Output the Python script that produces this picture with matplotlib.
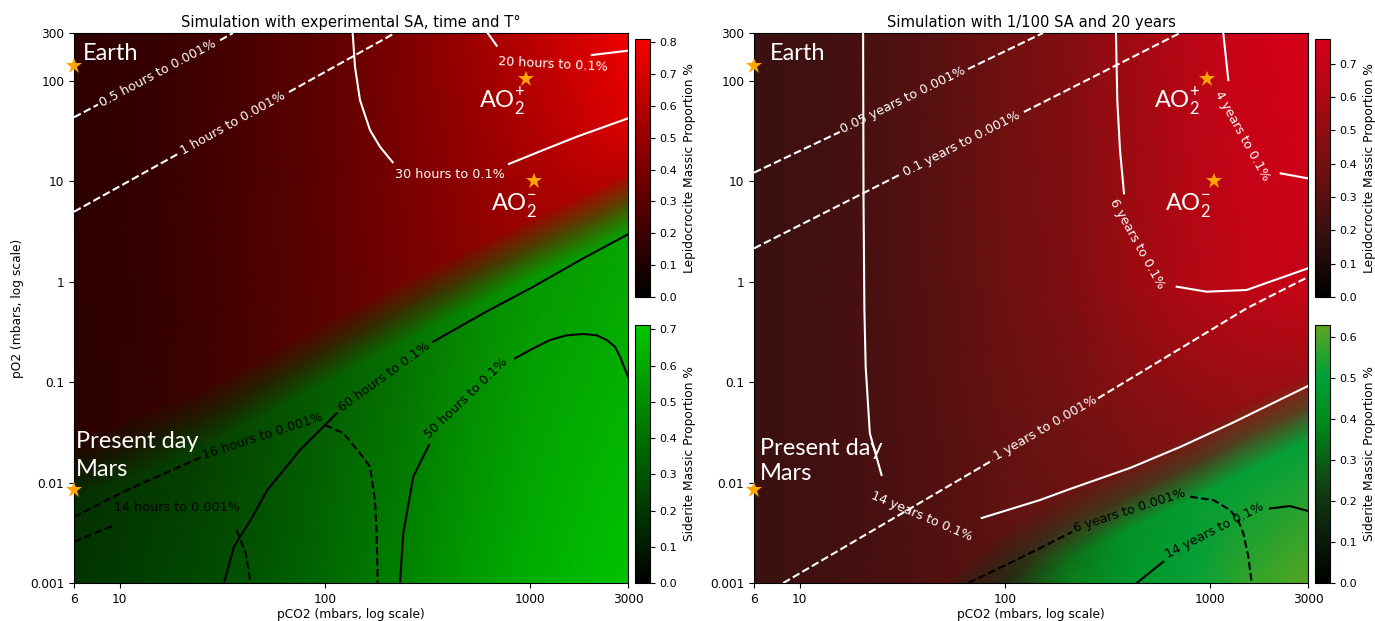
import numpy as np
import matplotlib
matplotlib.use("Agg")
import matplotlib.pyplot as plt
from matplotlib.colors import LinearSegmentedColormap, Normalize
from matplotlib.cm import ScalarMappable
from matplotlib.ticker import NullLocator

# ---------------- data ----------------
x_ticks = [6, 10, 100, 1000, 3000]
x_tick_labels = ["6", "10", "100", "1000", "3000"]
y_ticks = [0.001, 0.01, 0.1, 1, 10, 100, 300]
y_tick_labels = ["0.001", "0.01", "0.1", "1", "10", "100", "300"]

titles = ["Simulation with experimental SA, time and T°",
          "Simulation with 1/100 SA and 20 years"]

# colour-scale ranges
left_lep_max, left_sid_max = 0.812, 0.712
right_lep_max, right_sid_max = 0.776, 0.630
left_lep_ticks = [0.0, 0.1, 0.2, 0.3, 0.4, 0.5, 0.6, 0.7, 0.8]
left_sid_ticks = [0.0, 0.1, 0.2, 0.3, 0.4, 0.5, 0.6, 0.7]
right_lep_ticks = [0.0, 0.1, 0.2, 0.3, 0.4, 0.5, 0.6, 0.7]
right_sid_ticks = [0.0, 0.1, 0.2, 0.3, 0.4, 0.5, 0.6]

# ---- left panel field (rows: bottom, siderite edge, boundary, lepidocrocite edge, mid, top)
left_pco2 = [6, 12, 25, 50, 100, 230, 500, 1000, 2000, 3000]
left_po2 = [
    [0.001, 0.001, 0.001, 0.001, 0.001, 0.001, 0.001, 0.001, 0.001, 0.001],
    [0.0067, 0.0117, 0.0213, 0.045, 0.097, 0.24, 0.53, 1.06, 2.0, 3.0],
    [0.0133, 0.0234, 0.0425, 0.090, 0.193, 0.483, 1.06, 2.12, 4.05, 6.1],
    [0.0266, 0.047, 0.085, 0.18, 0.39, 0.97, 2.1, 4.2, 8.1, 12.2],
    [30, 30, 30, 30, 30, 30, 30, 30, 30, 30],
    [300, 300, 300, 300, 300, 300, 300, 300, 300, 300],
]
left_lep = [
    [0.00, 0.00, 0.00, 0.00, 0.00, 0.00, 0.00, 0.00, 0.00, 0.00],
    [0.02, 0.02, 0.02, 0.02, 0.02, 0.02, 0.02, 0.02, 0.02, 0.02],
    [0.07, 0.08, 0.10, 0.12, 0.14, 0.17, 0.20, 0.23, 0.25, 0.26],
    [0.14, 0.16, 0.20, 0.25, 0.30, 0.38, 0.45, 0.52, 0.58, 0.60],
    [0.15, 0.17, 0.21, 0.26, 0.31, 0.40, 0.48, 0.57, 0.66, 0.71],
    [0.15, 0.17, 0.21, 0.26, 0.31, 0.41, 0.51, 0.61, 0.72, 0.79],
]
left_sid = [
    [0.19, 0.22, 0.26, 0.31, 0.37, 0.46, 0.55, 0.62, 0.67, 0.69],
    [0.17, 0.20, 0.23, 0.28, 0.33, 0.40, 0.48, 0.54, 0.57, 0.59],
    [0.08, 0.09, 0.11, 0.13, 0.15, 0.18, 0.21, 0.24, 0.26, 0.27],
    [0.01, 0.01, 0.01, 0.01, 0.01, 0.01, 0.01, 0.01, 0.01, 0.01],
    [0.00, 0.00, 0.00, 0.00, 0.00, 0.00, 0.00, 0.00, 0.00, 0.00],
    [0.00, 0.00, 0.00, 0.00, 0.00, 0.00, 0.00, 0.00, 0.00, 0.00],
]

# ---- right panel field
right_pco2 = [6, 12, 25, 50, 100, 200, 400, 800, 1500, 3000]
right_po2 = [
    [0.001, 0.001, 0.001, 0.001, 0.001, 0.001, 0.001, 0.001, 0.001, 0.001],
    [0.001, 0.001, 0.001, 0.001, 0.001, 0.0017, 0.0034, 0.0066, 0.013, 0.026],
    [0.001, 0.001, 0.001, 0.001, 0.0016, 0.0036, 0.0072, 0.014, 0.028, 0.055],
    [0.001, 0.001, 0.001, 0.001, 0.0035, 0.0078, 0.016, 0.031, 0.062, 0.12],
    [1, 1, 1, 1, 1, 1, 1, 1, 1, 1],
    [300, 300, 300, 300, 300, 300, 300, 300, 300, 300],
]
right_lep = [
    [0.20, 0.22, 0.25, 0.28, 0.10, 0.02, 0.00, 0.00, 0.00, 0.00],
    [0.20, 0.22, 0.25, 0.28, 0.10, 0.03, 0.02, 0.02, 0.02, 0.02],
    [0.20, 0.22, 0.25, 0.28, 0.17, 0.18, 0.19, 0.20, 0.22, 0.24],
    [0.20, 0.22, 0.25, 0.28, 0.32, 0.36, 0.41, 0.46, 0.51, 0.55],
    [0.20, 0.22, 0.26, 0.31, 0.38, 0.44, 0.53, 0.62, 0.68, 0.71],
    [0.20, 0.22, 0.26, 0.31, 0.39, 0.45, 0.55, 0.65, 0.73, 0.77],
]
right_sid = [
    [0.00, 0.00, 0.00, 0.00, 0.12, 0.36, 0.46, 0.51, 0.57, 0.62],
    [0.00, 0.00, 0.00, 0.00, 0.12, 0.32, 0.43, 0.47, 0.49, 0.50],
    [0.00, 0.00, 0.00, 0.00, 0.08, 0.13, 0.15, 0.17, 0.19, 0.20],
    [0.00, 0.00, 0.00, 0.00, 0.01, 0.01, 0.01, 0.01, 0.01, 0.01],
    [0.00, 0.00, 0.00, 0.00, 0.00, 0.00, 0.00, 0.00, 0.00, 0.00],
    [0.00, 0.00, 0.00, 0.00, 0.00, 0.00, 0.00, 0.00, 0.00, 0.00],
]

# ---- contour lines (pieces either side of their label), pCO2 / pO2
left_05h = [([6, 7.85], [43.4, 58.1]), ([30.9, 35.7], [254, 300])]
left_1h = [([6, 19.3], [4.98, 18.8]), ([66.9, 219.8], [77.5, 300])]
left_30h = [([136.7, 140.3, 148.4, 166, 185.7, 214.1], [300, 138.5, 64.5, 32.4, 22.1, 15.5]),
            ([789.5, 1160, 1688, 3000], [14.9, 20.5, 27.8, 42.4])]
left_20h = [([621.7, 687.8], [300, 224]), ([1998, 3000], [181, 200])]
left_60h = [([32.3, 36.1, 43.5, 52.5, 75.7, 114.3], [0.001, 0.0023, 0.00424, 0.00843, 0.0211, 0.049]),
            ([337.7, 591.8, 1037, 1817, 3000], [0.253, 0.485, 0.893, 1.712, 2.97])]
left_16h = [([6, 10.9, 24.9], [0.00457, 0.00843, 0.01786]),
            ([100.2, 123, 148.4, 166, 175.6, 178.9, 180.9],
             [0.0375, 0.031, 0.0196, 0.0144, 0.0067, 0.00313, 0.001])]
left_14h = [([6, 9.47], [0.00258, 0.00378]), ([37.2, 41.2, 43.5], [0.00337, 0.001976, 0.001])]
left_50h = [([232.4, 241.2, 269.8, 321.8], [0.001, 0.00313, 0.01144, 0.02367]),
            ([844.6, 1037, 1251, 1508, 1817, 2112, 2362, 2592, 2742, 2868, 3000],
             [0.1729, 0.2174, 0.263, 0.2929, 0.3017, 0.2929, 0.263, 0.2255, 0.1793, 0.1426, 0.1134])]

right_005y = [([6, 15.7], [12.2, 31]), ([66.2, 153.5], [131.3, 300])]
right_01y = [([6, 31.2], [2.15, 11.8]), ([124, 713.8], [49.1, 300])]
right_14y_w = [([20.4, 20.5, 20.7, 21.0, 22.0, 25.1], [300, 6.52, 0.523, 0.1426, 0.031, 0.0119]),
               ([77.2, 148.4, 207.8, 407.3, 713.8, 1251, 3000],
                [0.00444, 0.0067, 0.00863, 0.01397, 0.0226, 0.0383, 0.0916])]
right_6y_w = [([348, 353.2, 364.1, 380.8], [300, 64.5, 20.5, 7.6]),
              ([687.8, 963, 1508, 3000], [0.893, 0.796, 0.828, 1.361])]
right_4y = [([1160, 1227], [300, 102]), ([2209, 3000], [12.0, 10.7])]
right_1y = [([8.33, 87.6], [0.001, 0.0168]), ([284.5, 1508, 3000], [0.0691, 0.5439, 1.115])]
right_6y_k = [([66.4, 118.6, 212.5], [0.001, 0.00177, 0.00322]),
              ([798.5, 1037, 1251, 1368, 1452, 1536, 1595],
               [0.00723, 0.0067, 0.00533, 0.00424, 0.00313, 0.00183, 0.001])]
right_14y_k = [([439.2, 591.8], [0.001, 0.00163]), ([1958, 2451, 3000], [0.00552, 0.00584, 0.00521])]

# ---- scenario markers
left_star_x = [6, 6, 960, 1045]
left_star_y = [140, 0.0084, 105, 10]
right_star_x = [6, 6, 963, 1049]
right_star_y = [140, 0.0084, 105, 10]

# ---------------- styling ----------------
plt.rcParams["font.family"] = ["DejaVu Sans"]
ANN_FONT = ["Lato", "DejaVu Sans"]

cm_red_L = LinearSegmentedColormap.from_list("redL", ["#000000", "#f80000"])
cm_green_L = LinearSegmentedColormap.from_list("greenL", ["#000000", "#00c800"])
cm_red_R = LinearSegmentedColormap.from_list(
    "redR", [(0, "#000000"), (0.25, "#3a1010"), (0.5, "#701010"), (0.75, "#a80a12"), (1, "#d8001a")])
cm_green_R = LinearSegmentedColormap.from_list(
    "greenR", [(0, "#000000"), (0.35, "#123a12"), (0.62, "#008a1a"), (0.8, "#00a038"), (1, "#5ca520")])

W, H = 1375, 621
fig = plt.figure(figsize=(W / 100, H / 100), dpi=100)


def rect(x0, y0, x1, y1):
    return [x0 / W, 1 - y1 / H, (x1 - x0) / W, (y1 - y0) / H]


axL = fig.add_axes(rect(74, 33, 628, 583))
axR = fig.add_axes(rect(754, 33, 1308, 583))
caxL1 = fig.add_axes(rect(635, 38.5, 650, 297))
caxL2 = fig.add_axes(rect(635, 325, 650, 583))
caxR1 = fig.add_axes(rect(1315, 38.5, 1330, 297))
caxR2 = fig.add_axes(rect(1315, 325, 1330, 583))


def draw_field(ax, cols, po2, lep, sid, cm_l, n_l, cm_s, n_s):
    X = np.tile(np.array(cols, dtype=float), (len(po2), 1))
    Y = np.array(po2, dtype=float)
    rgb = cm_l(n_l(np.array(lep)))[..., :3] + cm_s(n_s(np.array(sid)))[..., :3]
    rgb = np.clip(rgb, 0, 1)
    ax.pcolormesh(X, Y, rgb, shading="gouraud")


def draw_contour(ax, pieces, color, ls, label, lx, ly, rot):
    for xs, ys in pieces:
        ax.plot(xs, ys, color=color, ls=ls, lw=1.5, zorder=3)
    ax.text(lx, ly, label, color=color, fontsize=9.2, rotation=rot,
            rotation_mode="anchor", ha="center", va="center", zorder=4)


def setup_axes(ax, title, ylabel):
    ax.set_xscale("log")
    ax.set_yscale("log")
    ax.set_xlim(6, 3000)
    ax.set_ylim(0.001, 300)
    ax.set_xticks(x_ticks)
    ax.set_xticklabels(x_tick_labels)
    ax.set_yticks(y_ticks)
    ax.set_yticklabels(y_tick_labels)
    ax.xaxis.set_minor_locator(NullLocator())
    ax.yaxis.set_minor_locator(NullLocator())
    ax.tick_params(labelsize=8.7)
    ax.set_xlabel("pCO2 (mbars, log scale)", fontsize=8.8, labelpad=1.5)
    if ylabel:
        ax.set_ylabel("pO2 (mbars, log scale)", fontsize=8.8)
    ax.set_title(title, fontsize=10.6, pad=4.5)


def annotate(ax, earth_xy, pd_xy, mars_xy, aop_xy, aom_xy):
    kw = dict(color="white", fontsize=17, family=ANN_FONT, va="baseline", ha="left", zorder=6)
    ax.text(*earth_xy, "Earth", **kw)
    ax.text(*pd_xy, "Present day", **kw)
    ax.text(*mars_xy, "Mars", **kw)
    ax.text(*aop_xy, r"AO$_\mathregular{2}^\mathregular{+}$", **kw)
    ax.text(*aom_xy, r"AO$_\mathregular{2}^\mathregular{-}$", **kw)


def colorbar(cax, cmap, vmax, ticks, label):
    sm = ScalarMappable(norm=Normalize(0, vmax), cmap=cmap)
    cb = fig.colorbar(sm, cax=cax)
    cb.set_ticks(ticks)
    cb.set_ticklabels([f"{t:.1f}" for t in ticks])
    cb.ax.tick_params(labelsize=8)
    cb.set_label(label, fontsize=8.8)
    cb.outline.set_linewidth(0.8)


# ---------------- left panel ----------------
nL1, nL2 = Normalize(0, left_lep_max), Normalize(0, left_sid_max)
draw_field(axL, left_pco2, left_po2, left_lep, left_sid, cm_red_L, nL1, cm_green_L, nL2)
draw_contour(axL, left_05h, "white", "--", "0.5 hours to 0.001%", 15.4, 120, 28)
draw_contour(axL, left_1h, "white", "--", "1 hours to 0.001%", 35.5, 37.7, 29)
draw_contour(axL, left_30h, "white", "-", "30 hours to 0.1%", 407, 11.6, 0)
draw_contour(axL, left_20h, "white", "-", "20 hours to 0.1%", 1290, 147, -3)
draw_contour(axL, left_60h, "black", "-", "60 hours to 0.1%", 194.3, 0.1125, 36)
draw_contour(axL, left_16h, "black", "--", "16 hours to 0.001%", 50, 0.0291, 18)
draw_contour(axL, left_14h, "black", "--", "14 hours to 0.001%", 19.15, 0.00565, 0)
draw_contour(axL, left_50h, "black", "-", "50 hours to 0.1%", 487.3, 0.0696, 44)
axL.plot(left_star_x, left_star_y, ls="none", marker="*", ms=12, color="#FFA500",
         mew=0, clip_on=False, zorder=7)
annotate(axL, (6.63, 161.5), (6.13, 0.02196), (6.13, 0.01171), (564, 53.4), (643, 5.18))
setup_axes(axL, titles[0], True)

# ---------------- right panel ----------------
nR1, nR2 = Normalize(0, right_lep_max), Normalize(0, right_sid_max)
draw_field(axR, right_pco2, right_po2, right_lep, right_sid, cm_red_R, nR1, cm_green_R, nR2)
draw_contour(axR, right_005y, "white", "--", "0.05 years to 0.001%", 32, 64.1, 26)
draw_contour(axR, right_01y, "white", "--", "0.1 years to 0.001%", 61.5, 23.5, 27)
draw_contour(axR, right_14y_w, "white", "-", "14 years to 0.1%", 39.5, 0.0046, -23)
draw_contour(axR, right_6y_w, "white", "-", "6 years to 0.1%", 442.2, 2.376, -61)
draw_contour(axR, right_4y, "white", "-", "4 years to 0.1%", 1426, 28.5, -61)
draw_contour(axR, right_1y, "white", "--", "1 years to 0.001%", 157, 0.035, 30)
draw_contour(axR, right_6y_k, "black", "--", "6 years to 0.001%", 405, 0.00527, 18)
draw_contour(axR, right_14y_k, "black", "-", "14 years to 0.1%", 1057, 0.00337, 27)
axR.plot(right_star_x, right_star_y, ls="none", marker="*", ms=12, color="#FFA500",
         mew=0, clip_on=False, zorder=7)
annotate(axR, (7.18, 161.5), (6.42, 0.01883), (6.42, 0.01061), (533, 53.4), (603, 5.18))
setup_axes(axR, titles[1], False)

# ---------------- colour bars ----------------
colorbar(caxL1, cm_red_L, left_lep_max, left_lep_ticks, "Lepidocrocite Massic Proportion %")
colorbar(caxL2, cm_green_L, left_sid_max, left_sid_ticks, "Siderite Massic Proportion %")
colorbar(caxR1, cm_red_R, right_lep_max, right_lep_ticks, "Lepidocrocite Massic Proportion %")
colorbar(caxR2, cm_green_R, right_sid_max, right_sid_ticks, "Siderite Massic Proportion %")

fig.savefig("out.png", dpi=100)
